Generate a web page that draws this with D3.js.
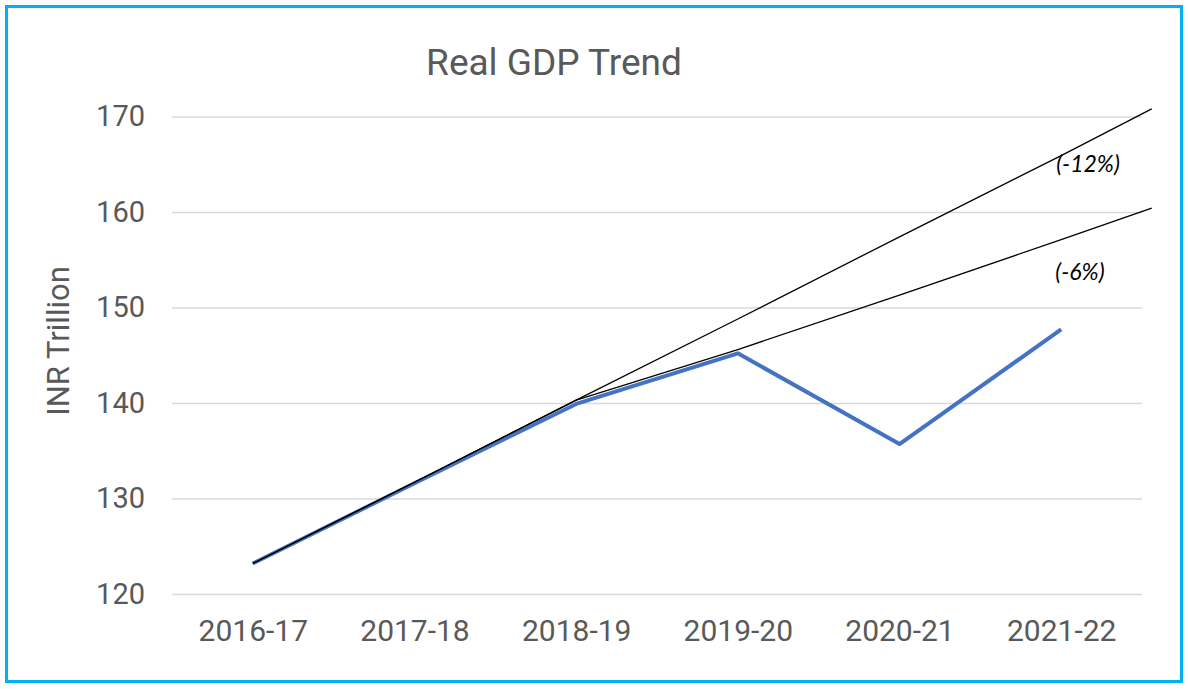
<!DOCTYPE html>
<html>
<head>
<meta charset="utf-8">
<script src="https://cdn.jsdelivr.net/npm/d3@7"></script>
<style>
  body { margin: 0; background: #fff; }
  .canvas svg { display: block; }
</style>
</head>
<body>
<div class="canvas"></div>
<script>
// data
const years = ['2016-17', '2017-18', '2018-19', '2019-20', '2020-21', '2021-22'];
const realGdp = [123.2, 131.6, 139.9, 145.2, 135.7, 147.7];
// pre-covid trend lines, values at each year plus the value where they leave the frame
const trendHigh = [123.2, 131.7, 140.3, 148.8, 157.4, 165.9, 170.8];
const trendLow = [123.2, 131.7, 140.3, 145.6, 151.3, 157.1, 160.4];
const trendNotes = ['(-12%)', '(-6%)'];
const yTicks = [120, 130, 140, 150, 160, 170];

const dims = { width: 1188, height: 689 };
const plot = { left: 172, right: 1142, top: 116.5, bottom: 594 };
const trendEndIndex = 5.56; // lines run a bit past the last year

const svg = d3.select('.canvas')
  .append('svg')
  .attr('width', dims.width)
  .attr('height', dims.height);

// outer frame
svg.append('rect')
  .attr('x', 6.5).attr('y', 6.5)
  .attr('width', 1175).attr('height', 675)
  .attr('fill', 'none')
  .attr('stroke', '#00b0f0')
  .attr('stroke-width', 3);

const x = d3.scalePoint()
  .domain(years)
  .range([plot.left, plot.right])
  .padding(0.5);

const step = x.step();
const xi = i => x(years[0]) + i * step;

const y = d3.scaleLinear()
  .domain([120, 170])
  .range([plot.bottom, plot.top]);

// gridlines + y tick labels
const yAxis = d3.axisLeft(y)
  .tickValues(yTicks)
  .tickSize(-(plot.right - plot.left))
  .tickPadding(27);

svg.append('g')
  .attr('transform', `translate(${plot.left}, 0)`)
  .call(yAxis)
  .call(g => g.select('.domain').remove())
  .call(g => g.selectAll('line').attr('stroke', '#d9d9d9').attr('stroke-width', 1.5))
  .call(g => g.selectAll('text')
    .attr('fill', '#595959')
    .style('font-family', 'Roboto')
    .style('font-size', '29px'));

// x labels
const xAxis = d3.axisBottom(x).tickSize(0).tickPadding(26);
svg.append('g')
  .attr('transform', `translate(0, ${plot.bottom})`)
  .call(xAxis)
  .call(g => g.select('.domain').remove())
  .call(g => g.selectAll('text')
    .attr('fill', '#595959')
    .style('font-family', 'Roboto')
    .style('font-size', '30px'));

// title
svg.append('text')
  .attr('x', 554).attr('y', 75)
  .attr('text-anchor', 'middle')
  .attr('fill', '#595959')
  .style('font-family', 'Roboto')
  .style('font-size', '37px')
  .text('Real GDP Trend');

// y title
svg.append('text')
  .attr('transform', `translate(69, 341) rotate(-90)`)
  .attr('text-anchor', 'middle')
  .attr('fill', '#595959')
  .style('font-family', 'Roboto')
  .style('font-size', '31px')
  .text('INR Trillion');

// actual series
const line = d3.line()
  .x((d, i) => x(years[i]))
  .y(d => y(d));

svg.append('path')
  .datum(realGdp)
  .attr('d', line)
  .attr('fill', 'none')
  .attr('stroke', '#4472c4')
  .attr('stroke-width', 4)
  .attr('stroke-linejoin', 'round');

// trend lines
const trendLine = d3.line()
  .x((d, i) => i < years.length ? x(years[i]) : xi(trendEndIndex))
  .y(d => y(d));

[trendHigh, trendLow].forEach(t => {
  svg.append('path')
    .datum(t)
    .attr('d', trendLine)
    .attr('fill', 'none')
    .attr('stroke', '#000')
    .attr('stroke-width', 1.3);
});

// trend notes
const notePos = [[1088, 172], [1080, 280]];
trendNotes.forEach((n, i) => {
  svg.append('text')
    .attr('x', notePos[i][0]).attr('y', notePos[i][1])
    .attr('text-anchor', 'middle')
    .attr('fill', '#000')
    .style('font-family', 'Lato')
    .style('font-style', 'italic')
    .style('font-size', '23px')
    .text(n);
});
</script>
</body>
</html>
